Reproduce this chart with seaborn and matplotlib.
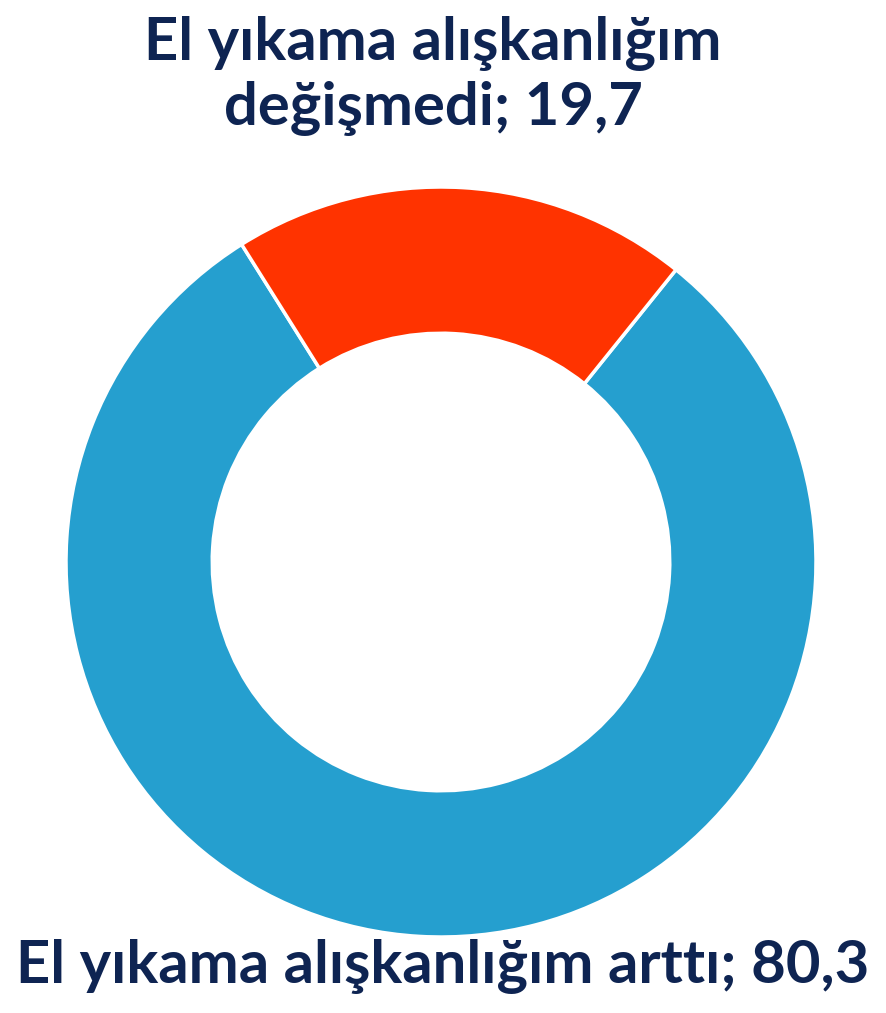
import matplotlib.pyplot as plt
import seaborn as sns

labels = ["El yıkama alışkanlığım arttı", "El yıkama alışkanlığım\ndeğişmedi"]
values = [80.3, 19.7]
colors = ["#259FCF", "#FF3300"]

W, H = 887, 1013
TEXT_COLOR = "#0E2452"

sns.set_theme(style="white")
plt.rcParams["font.family"] = ["Lato", "DejaVu Sans"]

fig = plt.figure(figsize=(W / 100, H / 100), dpi=100)

# pie centre at (441, 562) px, outer radius 375 px
cx, cy, r = 441, 562, 375
ax = fig.add_axes([(cx - r) / W, (H - cy - r) / H, 2 * r / W, 2 * r / H])
ax.pie(
    values,
    colors=colors,
    startangle=51.2,
    counterclock=False,
    radius=1,
    wedgeprops=dict(width=0.39, edgecolor="white", linewidth=2.5),
)
ax.set_xlim(-1, 1)
ax.set_ylim(-1, 1)
ax.set_aspect("equal")
ax.axis("off")


def label_text(i):
    return f"{labels[i]}; {str(values[i]).replace('.', ',')}"


fig.text(433 / W, 1 - 76 / H, label_text(1), ha="center", va="center",
         fontsize=43, fontweight="bold", color=TEXT_COLOR, linespacing=1.22)
fig.text(443 / W, 1 - 966 / H, label_text(0), ha="center", va="center",
         fontsize=43, fontweight="bold", color=TEXT_COLOR)

fig.savefig("out.png", dpi=100)
